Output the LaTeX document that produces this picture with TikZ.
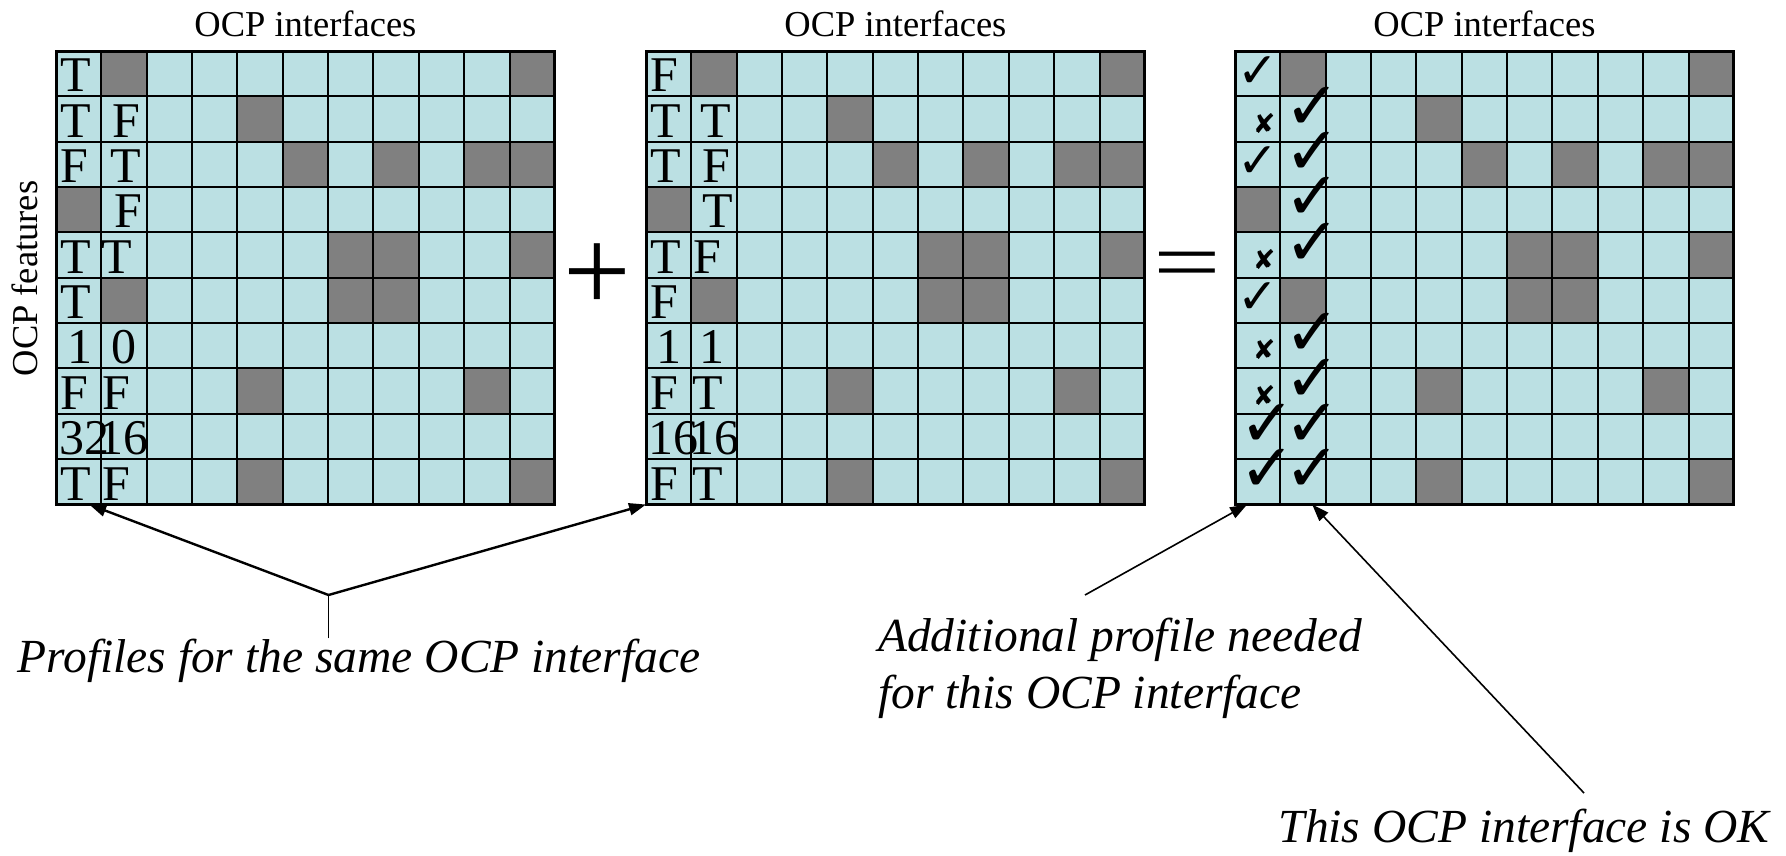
\documentclass[tikz,border=0pt]{standalone}
\usepackage{fontspec}
\setmainfont{Liberation Serif}
\newfontfamily\dingfont{DejaVu Sans}
\usetikzlibrary{arrows.meta,calc}
\definecolor{cellcyan}{HTML}{BBE0E3}
\definecolor{cellgray}{HTML}{808080}
% cells switched off in every profile table (row/column)
\def\offcells{0/1,0/10,1/4,2/5,2/7,2/9,2/10,3/0,4/6,4/7,4/10,5/1,5/6,5/7,7/4,7/9,9/4,9/10}
\tikzset{
  cell/.style={rectangle,minimum width=45.35pt,minimum height=45.35pt,inner sep=0pt,
    outer sep=0pt,draw=black,fill=cellcyan,line width=2pt},
  offcell/.style={fill=cellgray,draw=black,line width=2pt},
  cellval/.style={anchor=base west,inner sep=0pt,font=\fontsize{50}{60}\selectfont},
  tick/.style={inner sep=0pt,font=\dingfont\fontsize{#1}{#1}\selectfont},
  axislabel/.style={inner sep=0pt,font=\fontsize{36.5}{44}\selectfont},
  opsign/.style={inner sep=0pt,font=\fontsize{120}{120}\selectfont},
  note/.style={inner sep=0pt,align=left,font=\fontsize{47.5}{57}\selectfont\itshape},
  pointer/.style={-{Triangle[length=17pt,width=12pt]},line width=#1},
  pointer/.default={2.4pt},
}

\begin{document}
\begin{tikzpicture}[x=1pt,y=-1pt]
  \useasboundingbox (0,0) rectangle (1786,855);

  % the three feature/interface tables
  \foreach \g/\gx in {a/56,b/646,c/1235}{
    \foreach \r in {0,...,9}
      \foreach \c in {0,...,10}
        \node[cell] (\g-\r-\c) at (\gx+22.68+45.35*\c, 73.68+45.35*\r) {};
    \foreach \r/\c in \offcells
      \filldraw[offcell] (\g-\r-\c.south west) rectangle (\g-\r-\c.north east);
    \draw[line width=3pt] (\g-0-0.north west) rectangle (\g-9-10.south east);
    \node[axislabel,anchor=base] (\g-title) at ([yshift=15pt]\g-0-5.north) {OCP interfaces};
  }
  \node[axislabel,rotate=90] (features) at (25,278.5) {OCP features};

  % first profile
  \foreach \r/\c/\dx/\txt in {0/0/4.5/T,1/0/4.5/T,1/1/10.9/F,2/0/4.5/F,2/1/8.7/T,
      3/1/12.8/F,4/0/4.5/T,4/1/0.3/T,5/0/4.5/T,6/0/11.2/1,6/1/10.3/0,7/0/4.5/F,
      7/1/1.3/F,8/0/3/32,8/1/-2.6/16,9/0/4.5/T,9/1/1.3/F}
    \node[cellval] (a-\r-\c-val) at ([xshift=\dx pt,yshift=4.5pt]a-\r-\c.south west) {\txt};

  % second profile
  \foreach \r/\c/\dx/\txt in {0/0/4.5/F,1/0/4.5/T,1/1/8.8/T,2/0/4.5/T,2/1/11/F,
      3/1/10.8/T,4/0/4.5/T,4/1/1.5/F,5/0/4.5/F,6/0/10.1/1,6/1/8.1/1,7/0/4.5/F,
      7/1/1.2/T,8/0/1.8/16,8/1/-1.6/16,9/0/4.5/F,9/1/1.2/T}
    \node[cellval] (b-\r-\c-val) at ([xshift=\dx pt,yshift=4.5pt]b-\r-\c.south west) {\txt};

  % merged result
  \foreach \r in {0,2,5}
    \node[tick=49] (c-\r-0-val) at ([yshift=2pt]c-\r-0.center) {✓};
  \foreach \r in {1,4,6,7}
    \node[tick=27] (c-\r-0-val) at ([xshift=6.5pt,yshift=-4pt]c-\r-0.center) {✘};
  \foreach \r/\c in {8/0,9/0,1/1,2/1,3/1,4/1,6/1,7/1,8/1,9/1}
    \node[tick=67] (c-\r-\c-val) at ([xshift=9.5pt,yshift=11pt]c-\r-\c.center) {✓};

  \node[opsign] (plus) at (597,278) {+};
  \node[opsign] (equals) at (1187,271) {\scalebox{1}[0.7]{=}};

  % annotations
  \node[note,anchor=base] (samenote) at (359,672) {Profiles for the same OCP interface};
  \node[note,anchor=base west] (addnote) at (878,708) {Additional profile needed\\for this OCP interface};
  \node[note,anchor=base] (oknote) at (1524,842.5) {This OCP interface is OK};

  \coordinate (fork) at (328.5,595);
  \draw[line width=1.6pt] (samenote.north -| fork) -- (fork);
  \draw[pointer] (fork) -- (a-9-0.-65);
  \draw[pointer] (fork) -- (b-9-0.south west);
  \coordinate (addfrom) at (1085,595);
  \draw[pointer=1.6pt] (addfrom) -- (c-9-0.-115);
  \coordinate (okfrom) at (1584,793);
  \draw[pointer=1.6pt] (okfrom) -- (c-9-1.-68);
\end{tikzpicture}
\end{document}
